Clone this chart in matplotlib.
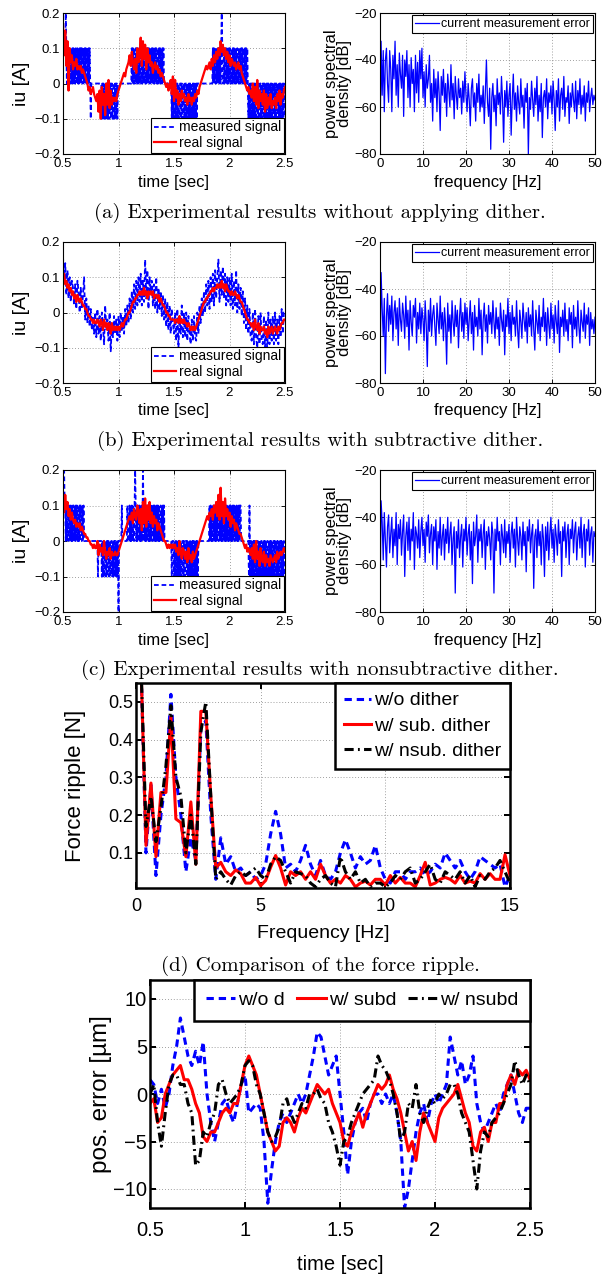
import numpy as np
import matplotlib.pyplot as plt

W, H = 614, 1280

# ---------------- data ----------------
# rows (a)-(c), left: sampled every 0.01 s from 0.5 s, values in 0.01 A
red_a = [17, 8, 15, 5, 12, -2, 10, 6, 8, 4,
         6, 5, 7, 4, 5, 4, 5, 3, 4, 3,
         2, 1, 0, -2, -1, -3, -2, -1, -3, -4,
         -5, -3, -8, -2, -10, -1, -6, -3, -9, 0,
         -6, 1, -7, -2, -6, -4, -5, -4, -5, -3,
         -2, -1, 0, 1, 2, 3, 2, 4, 5, 6,
         8, 5, 9, 6, 4, 7, 3, 10, 6, 8,
         13, 5, 12, 7, 11, 4, 10, 6, 8, 5,
         6, 3, 5, 6, 4, 5, 3, 4, 2, 3,
         2, 1, 0, -1, 0, -2, -1, 1, -3, 2,
         -5, 1, -4, -2, -6, -3, -5, -2, -4, -3,
         -5, -4, -6, -3, -5, -4, -6, -4, -5, -3,
         -4, -2, -3, -1, 0, 1, 2, 3, 4, 5,
         4, 5, 6, 4, 7, 5, 8, 6, 9, 7,
         10, 8, 12, 9, 11, 8, 10, 7, 9, 6,
         8, 5, 7, 6, 5, 6, 4, 5, 6, 4,
         5, 3, 2, 1, 0, -1, -2, -1, -3, -2,
         -4, 0, -5, -1, -6, 1, -7, -2, -5, -3,
         -6, -2, -8, -3, -7, -4, -6, -3, -7, -5,
         -6, -4, -7, -3, -5, -2, -6, -3, -4, -2,
         -1]

red_b = [10, 11, 8, 9, 7, 8, 6, 7, 5, 6,
         4, 5, 3, 5, 4, 3, 4, 3, 2, 2,
         1, 1, 0, -1, -1, -2, -2, -3, -2, -3,
         -3, -2, -3, -4, -2, -3, -5, -2, -4, -3,
         -5, -3, -4, -6, -3, -5, -4, -5, -4, -5,
         -4, -5, -4, -3, -4, -3, -2, -2, -1, 0,
         0, 1, 2, 3, 3, 4, 4, 5, 5, 6,
         5, 6, 5, 7, 5, 6, 4, 6, 5, 6,
         5, 6, 4, 5, 5, 4, 5, 3, 4, 3,
         2, 2, 1, 0, 0, -1, -1, -2, -2, -2,
         -2, -3, -2, -2, -3, -1, -3, -2, -3, -2,
         -3, -3, -4, -3, -4, -5, -4, -5, -4, -5,
         -4, -3, -2, -1, 0, 1, 2, 3, 3, 4,
         4, 5, 5, 6, 6, 7, 6, 7, 7, 8,
         7, 8, 7, 9, 7, 8, 6, 8, 7, 6,
         6, 5, 6, 5, 5, 6, 5, 4, 5, 4,
         3, 3, 2, 1, 0, -1, -2, -2, -3, -3,
         -4, -3, -5, -2, -4, -5, -3, -6, -4, -5,
         -5, -4, -6, -5, -7, -4, -6, -5, -4, -6,
         -5, -4, -5, -6, -4, -5, -4, -3, -3, -2,
         -2]

meas_b = [16, 8, 14, 5, 12, 4, 10, 3, 9, 7,
          2, 8, 1, 9, 6, 0, 7, 1, 5, 10,
          -2, 4, -3, 2, -4, 1, -5, -1, -6, 0,
          -7, 1, -6, -1, -8, 0, -4, -9, 2, -5,
          -2, -8, 0, -11, -3, -7, -1, -6, -2, -8,
          -1, -7, 0, -5, -1, -6, 1, -4, 2, -3,
          4, -2, 6, 0, 8, 1, 9, 2, 10, 3,
          11, 2, 9, 3, 15, 4, 12, 1, 10, 6,
          9, 2, 8, 1, 10, 0, 7, 1, 6, -1,
          5, -2, 4, -4, 3, -5, 2, -6, 1, -3,
          -6, 0, -8, 1, -10, -1, -6, 2, -7, 0,
          -7, 0, -8, -1, -6, -9, -2, -8, -1, -7,
          -8, 0, -6, 2, -3, 4, -1, 6, 0, 8,
          2, 9, 1, 10, 3, 11, 2, 12, 4, 10,
          15, 3, 12, 5, 13, 4, 11, 2, 10, 3,
          10, 2, 11, 1, 9, 2, 12, 0, 8, 1,
          7, -1, 6, -3, 4, -5, 2, -6, 1, -7,
          -8, 0, -9, 1, -7, -10, -1, -9, 0, -8,
          -9, -1, -10, -2, -11, 0, -9, -2, -8, -1,
          -9, 0, -8, -2, -9, -1, -7, 1, -6, 0,
          0]

red_c = [12, 8, 13, 9, 11, 7, 9, 6, 8, 6,
         5, 6, 4, 5, 4, 5, 3, 4, 3, 2,
         2, 1, 1, 0, 0, -1, -1, -2, -1, -2,
         -2, 0, -4, -1, -3, -2, -4, 0, -3, -5,
         -3, -4, -2, -5, -3, -4, -4, -3, -4, -4,
         -3, -2, -1, 0, 1, 2, 3, 4, 5, 6,
         7, 6, 8, 5, 9, 7, 6, 10, 8, 5,
         9, 3, 11, 5, 12, 4, 10, 6, 11, 5,
         8, 4, 7, 5, 6, 3, 5, 4, 3, 2,
         1, 0, 0, -1, -2, -1, -2, -1, -2, -1,
         -2, -1, -3, -2, -4, 0, -3, -5, -2, -3,
         -5, -3, -6, -2, -5, -4, -6, -3, -5, -4,
         -3, -2, -1, 0, 1, 2, 3, 4, 5, 6,
         7, 6, 8, 7, 9, 6, 10, 8, 11, 7,
         13, 6, 15, 7, 11, 5, 12, 7, 9, 6,
         8, 4, 7, 5, 6, 3, 5, 4, 3, 2,
         2, 1, 0, -1, -2, -1, -3, -2, -3, -4,
         -2, -5, -1, -6, 0, -5, -3, -7, -2, -5,
         -6, -3, -7, -4, -6, -5, -7, -4, -5, -6,
         -5, -4, -6, -3, -5, -4, -3, -4, -3, -2,
         -3]

# quantised measurements every 0.005 s from 0.5 s: N=-0.2 n=-0.1 z=0 p=0.1 P=0.2
meas_a_codes = ["pppppPpzpz",
                "pzpzzpzpzp", "zpzpzzpzpz", "pzpzpzzpzp", "zpzzpzpzpz",
                "nzzzzzzzzzzzzzzzzzzz",
                "nznznzznzn", "znznnzznzn", "nzznznzznz",
                "zzzzzzzzzzzzzzzzzzzzzzzz",
                "pzpzpzzpzp", "zpzpzpzzpz", "pzpzzpzpzp", "zpzzpzpzpz", "pzpzpzzpzp", "zpzpzpzpzz",
                "zzzzzzzzzzzz",
                "nznznzznzn", "znznnzznzn", "nzznznzznz", "nznznzznzn", "znznznzz",
                "zzzzzzzzzzzzzzzzzzzzzzzzzz",
                "pzpzpzzpzp", "zpzpzpPpzz", "pzpzzpzpzp", "zpzzpzpzpz", "pzpzpzzpzp", "zpzpzzpzpz", "pzpz",
                "nznznzznzn", "znznnzznzn", "nzznznzznz", "nznznzznzn", "znznzznznz", "nzznznznzn", "znznzn"]
meas_c_codes = ["PPPp",
                "pzpzppzpzzpzpzppzpzp", "zpzzpzpzppzpzpzz",
                "zzzzzzzzzzzzzzzzzzzz",
                "zzznzzzzzz",
                "nznznnzznz", "nzznznnzzn", "znznzznznz",
                "N", "zzzzzpzzzzzzzzzpzzz",
                "pzpzpzzpzp", "Ppzpzpzzpz", "pzpzPpzpzp", "zpzpzzpzpz", "pzzpzpzpzp", "zpzpzzpzpz", "pzpz",
                "zzzzzzzzzzzznzzz",
                "nznzznznzn", "znznnzznzn", "nzznznzznz", "nznznzznzn", "znzn",
                "zzzzzzzzzzzzzzzzzzzz",
                "pzpzpzzpzp", "zpzpzpzzpz", "pzpzzpzpzp", "zpzzpzpzpz", "pzpzpzzpzp", "zpzpzp",
                "pzzzzzzzzzzzzz",
                "znpnzznznz", "nzznznzznz", "nznzznznzn", "znznzznznz", "nznznzznzn", "zznznznzzn", "znznzn"]

# power spectral density in dB, every 0.25 Hz from 0 Hz
psd_a = [-80, -32, -55, -36, -62, -40, -35, -50, -58, -36, -44, -62, -38, -48, -32, -55, -42, -60, -37, -46,
         -52, -38, -64, -40, -47, -36, -56, -42, -60, -39, -50, -44, -62, -38, -54, -41, -58, -36, -48, -35,
         -56, -45, -60, -42, -52, -48, -38, -58, -50, -66, -44, -56, -48, -62, -45, -54, -70, -47, -55, -44,
         -58, -50, -64, -46, -53, -60, -42, -57, -50, -65, -47, -55, -61, -48, -56, -52, -63, -49, -58, -45,
         -55, -62, -50, -57, -68, -52, -48, -60, -54, -66, -50, -58, -46, -62, -55, -60, -51, -67, -53, -40,
         -58, -64, -52, -78, -56, -50, -62, -55, -68, -48, -59, -54, -63, -47, -57, -75, -53, -60, -49, -64,
         -55, -50, -72, -57, -46, -61, -54, -66, -51, -58, -63, -48, -60, -55, -69, -52, -58, -50, -80, -56,
         -61, -49, -57, -64, -52, -59, -47, -66, -55, -62, -50, -73, -56, -53, -60, -48, -65, -54, -58, -51,
         -63, -49, -57, -70, -53, -60, -48, -66, -55, -52, -61, -47, -64, -56, -58, -51, -67, -54, -60, -50,
         -57, -62, -49, -65, -53, -59, -48, -63, -55, -60, -51, -66, -54, -58, -49, -62, -56, -52, -59, -55, -57]
psd_b = [-80, -33, -48, -60, -44, -76, -52, -42, -58, -47, -55, -43, -62, -50, -45, -57, -48, -64, -44, -53,
         -58, -46, -51, -61, -43, -56, -49, -66, -45, -54, -60, -47, -52, -44, -63, -50, -57, -46, -59, -48,
         -53, -62, -45, -55, -73, -49, -58, -44, -60, -51, -47, -56, -64, -46, -53, -59, -43, -57, -50, -62,
         -48, -55, -72, -46, -58, -51, -63, -45, -54, -60, -47, -56, -49, -65, -52, -44, -58, -50, -61, -46,
         -55, -48, -62, -53, -45, -59, -50, -66, -47, -56, -52, -60, -44, -57, -49, -68, -53, -46, -58, -51,
         -63, -47, -55, -50, -59, -45, -54, -61, -48, -57, -52, -64, -46, -53, -58, -49, -68, -51, -56, -44,
         -59, -50, -62, -47, -55, -52, -60, -45, -57, -65, -49, -54, -61, -46, -53, -58, -50, -63, -48, -56,
         -51, -60, -45, -57, -66, -49, -54, -59, -47, -62, -52, -56, -44, -58, -50, -64, -48, -55, -61, -46,
         -57, -51, -63, -47, -54, -59, -45, -67, -52, -56, -49, -60, -46, -58, -53, -62, -48, -55, -50, -65,
         -47, -57, -52, -60, -45, -56, -63, -49, -54, -58, -46, -61, -51, -55, -48, -64, -50, -57, -53, -59, -52]
psd_c = [-80, -33, -42, -58, -38, -50, -61, -44, -39, -55, -47, -40, -57, -45, -52, -38, -60, -43, -49, -41,
         -56, -46, -39, -65, -48, -42, -54, -40, -58, -45, -50, -38, -62, -44, -47, -53, -41, -57, -46, -40,
         -52, -45, -59, -42, -48, -39, -55, -47, -43, -60, -44, -50, -41, -62, -46, -53, -40, -56, -48, -43,
         -58, -45, -51, -40, -55, -47, -42, -60, -49, -44, -72, -46, -53, -41, -57, -48, -43, -61, -45, -50,
         -40, -56, -47, -43, -58, -46, -68, -42, -52, -48, -39, -59, -45, -50, -43, -57, -47, -41, -62, -46,
         -52, -44, -49, -58, -42, -47, -72, -45, -54, -40, -50, -46, -60, -43, -48, -55, -41, -57, -46, -51,
         -43, -59, -47, -42, -53, -45, -61, -40, -49, -56, -44, -48, -58, -42, -52, -46, -63, -44, -50, -41,
         -55, -47, -43, -70, -48, -45, -57, -41, -52, -46, -60, -43, -49, -65, -44, -54, -42, -58, -47, -40,
         -53, -45, -59, -43, -48, -56, -41, -51, -46, -65, -44, -50, -42, -57, -47, -43, -60, -45, -49, -41,
         -55, -46, -42, -58, -48, -44, -53, -40, -57, -47, -43, -61, -45, -50, -41, -56, -47, -44, -59, -46, -48]

# (d) force ripple [N], every 0.2 Hz from 0.2 Hz
ripple_wo = [0.60, 0.10, 0.28, 0.04, 0.20, 0.30, 0.52, 0.30, 0.20, 0.05,
             0.14, 0.08, 0.43, 0.45, 0.20, 0.03, 0.14, 0.07, 0.09, 0.05,
             0.06, 0.04, 0.05, 0.03, 0.04, 0.07, 0.15, 0.21, 0.15, 0.06,
             0.07, 0.05, 0.08, 0.12, 0.07, 0.04, 0.08, 0.04, 0.03, 0.05,
             0.10, 0.135, 0.10, 0.06, 0.09, 0.07, 0.08, 0.12, 0.06, 0.03,
             0.02, 0.05, 0.05, 0.03, 0.05, 0.05, 0.06, 0.04, 0.05, 0.07,
             0.06, 0.10, 0.08, 0.06, 0.08, 0.05, 0.03, 0.05, 0.09, 0.08,
             0.07, 0.06, 0.07, 0.01, 0.04]
ripple_sub = [0.60, 0.12, 0.285, 0.09, 0.26, 0.26, 0.46, 0.19, 0.18, 0.09,
              0.235, 0.07, 0.475, 0.475, 0.25, 0.06, 0.075, 0.05, 0.04, 0.055,
              0.045, 0.02, 0.02, 0.035, 0.013, 0.027, 0.062, 0.093, 0.06, 0.015,
              0.05, 0.04, 0.05, 0.03, 0.05, 0.03, 0.07, 0.04, 0.02, 0.03,
              0.02, 0.04, 0.03, 0.01, 0.02, 0.025, 0.015, 0.03, 0.03, 0.015,
              0.04, 0.02, 0.035, 0.02, 0.02, 0.01, 0.04, 0.075, 0.015, 0.02,
              0.03, 0.035, 0.03, 0.02, 0.04, 0.02, 0.025, 0.02, 0.045, 0.03,
              0.045, 0.03, 0.03, 0.095, 0.04]
ripple_nsub = [0.60, 0.17, 0.25, 0.13, 0.22, 0.33, 0.49, 0.30, 0.25, 0.10,
               0.20, 0.07, 0.42, 0.50, 0.25, 0.03, 0.05, 0.03, 0.015, 0.04,
               0.05, 0.04, 0.05, 0.06, 0.04, 0.03, 0.07, 0.09, 0.08, 0.05,
               0.02, 0.05, 0.045, 0.04, 0.02, 0.01, 0.03, 0.04, 0.02, 0.01,
               0.09, 0.05, 0.03, 0.05, 0.02, 0.03, 0.01, 0.02, 0.02, 0.01,
               0.02, 0.04, 0.03, 0.05, 0.06, 0.02, 0.03, 0.05, 0.07, 0.03,
               0.02, 0.05, 0.04, 0.03, 0.05, 0.02, 0.04, 0.01, 0.04, 0.03,
               0.05, 0.06, 0.08, 0.05, 0.02]

# (e) position error [um], every 0.02 s from 0.5 s
pos_wo = [1.5, 1, -1, 0.5, -1.5, 0, 3, 5, 8, 6,
          4, 3, 4.5, 3, 5.5, 0, -3, -5, -3, -1,
          -0.5, -2, -3, -1, 1, 2, -2, -1.5, -1, -1.5,
          -5, -11.5, -8, -5, -3, -2, -3, -2, -1, 0,
          -1, 0, 2, 4, 6.5, 6, 4, 2, 3, 4,
          0, -4, -8.5, -5, -3, -2, -1.5, -3, -1, 0,
          0, -1, 0, -1, 0, -2, -5, -12, -10, -7,
          -4, -2, -1, -3, -1, 0, -1, 0, 1, 6,
          4, 2, 3.5, 1, 2, 4, -1, -3, -4, -3,
          -2, -1, -2, 0, 1, 2, 0, -2, -3, -1.5,
          -1.5]
pos_sub = [-1, -0.5, -3, -2.5, 0, 1, 2, 2.5, 3, 1.5,
           1.5, 0.5, -1, -2, -4.5, -5, -4, -4, -3, -2,
           -1.5, -2, -1, -1, 1, 3, 4, 3, 2, 0,
           -2, -4, -5, -6, -5.5, -3, -2.5, -3, -4, -2.5,
           -1.5, -2, -1, 0, 1, 0.5, 0, 0.5, -1, -2,
           -3, -5, -5.5, -4, -3, -2, -3.5, -2, -1, 0,
           1, 0.5, 1, 2, 0.5, -0.5, -2, -4, -6, -5,
           -7, -4, -2, -3, -4, -5, -2.5, -1.5, -1, -0.5,
           0, 1, -0.5, -2, -3, -5.5, -6, -4, -3.5, -5,
           -3, -3, -1, -1, 1, 2, 1, 2.5, 2, 2.5,
           1.5]
pos_nsub = [0, 1, -3, -5.5, -2, 1, 2, 2, 1, 1,
            -1, -2, -7.5, -7, -4, -4.5, -3, -2, 1, 1.5,
            0, -1, -0.5, 0, 1, 3, 3.5, 3, 1, 0,
            -2, -4, -5, -4.5, -3.5, -1, -0.5, -2, -3, -2,
            -1, -1.5, 0, 0, 0.5, -0.5, -1, -3, -4, -5.5,
            -7.5, -5, -4.5, -3, -2, -1, 0, 0.5, 1, 1.5,
            4, 3, 2.5, 1.5, 0, -2, -5, -4, -1, -1.5,
            1, -2, -3, -1.5, -0.5, -1, 0, -0.5, 0, 1,
            1, 0, -2, -3, -4, -7, -10, -6, -4, -4.5,
            -3, -2.5, -2, -1, 0, 1, 3.5, 2, 1, 2,
            1]

captions = ["(a) Experimental results without applying dither.",
            "(b) Experimental results with subtractive dither.",
            "(c) Experimental results with nonsubtractive dither.",
            "(d) Comparison of the force ripple."]

time_ticks = [0.5, 1, 1.5, 2, 2.5]
time_labels = ["0.5", "1", "1.5", "2", "2.5"]
iu_ticks = [-0.2, -0.1, 0, 0.1, 0.2]
iu_labels = ["\u22120.2", "\u22120.1", "0", "0.1", "0.2"]
freq_ticks = [0, 10, 20, 30, 40, 50]
freq_labels = ["0", "10", "20", "30", "40", "50"]
db_ticks = [-80, -60, -40, -20]
db_labels = ["\u221280", "\u221260", "\u221240", "\u221220"]

# ---------------- drawing ----------------
plt.rcParams['font.family'] = ['Liberation Sans', 'DejaVu Sans']
BLUE, RED = '#0000ff', '#ff0000'

fig = plt.figure(figsize=(W / 100, H / 100), dpi=100)


def box(l, t, r, b):
    ax = fig.add_axes([l / W, 1 - b / H, (r - l) / W, (b - t) / H])
    ax._px = (l, t, r, b)
    return ax


def style(ax, xt, xl, yt, yl, size, lw, tlen, xpad=2):
    ax.set_xticks(xt, xl)
    ax.set_yticks(yt, yl)
    ax.tick_params(direction='in', top=True, right=True, labelsize=size,
                   width=lw * 0.8, length=tlen, pad=2)
    ax.tick_params(axis='x', pad=xpad)
    for s in ax.spines.values():
        s.set_linewidth(lw)
    ax.grid(True, color='0.5', linestyle=(0, (1, 2.5)), linewidth=0.6)
    ax.set_axisbelow(True)


def labels(ax, xlab, ylab, xy, yx, xsize, ysize):
    l, t, r, b = ax._px
    ax.set_xlabel(xlab, fontsize=xsize)
    ax.xaxis.set_label_coords(0.5, (b - xy) / (b - t))
    ax.xaxis.label.set_va('center')
    ax.set_ylabel(ylab, fontsize=ysize, linespacing=0.9)
    ax.yaxis.set_label_coords((yx - l) / (r - l), 0.5)
    ax.yaxis.label.set_va('center')


t_coarse = 0.5 + 0.01 * np.arange(201)
t_fine = 0.5 + 0.005 * np.arange(400)
level = {'N': -0.2, 'n': -0.1, 'z': 0.0, 'p': 0.1, 'P': 0.2}
freq = 0.25 * np.arange(201)

rows = [(13, 154, ''.join(meas_a_codes), red_a, psd_a),
        (242, 383, None, red_b, psd_b),
        (470, 612, ''.join(meas_c_codes), red_c, psd_c)]
cap_y = [213, 441, 670, 966]

for i, (top, bot, codes, red, psd) in enumerate(rows):
    ax = box(63, top, 285, bot)
    if codes is not None:
        ax.plot(t_fine, [level[c] for c in codes], color=BLUE, lw=1.3,
                dashes=(2.6, 1.6), label='measured signal')
    else:
        ax.plot(t_coarse, np.array(meas_b) / 100, color=BLUE, lw=1.3,
                dashes=(2.6, 1.6), label='measured signal')
    ax.plot(t_coarse, np.array(red) / 100, color=RED, lw=1.6, label='real signal')
    ax.set_xlim(0.5, 2.5)
    ax.set_ylim(-0.2, 0.2)
    style(ax, time_ticks, time_labels, iu_ticks, iu_labels, 9.5, 0.8, 3, xpad=3)
    labels(ax, 'time [sec]', 'iu [A]', bot + 28, 22, 12, 14)
    ax.legend(loc='lower right', bbox_to_anchor=(1, 0), borderaxespad=0.1,
              fontsize=10, handlelength=1.6, handletextpad=0.15,
              borderpad=0.2, labelspacing=0.1, fancybox=False,
              edgecolor='black', framealpha=1).get_frame().set_linewidth(0.8)

    ax2 = box(380, top, 595, bot)
    ax2.plot(freq, psd, color=BLUE, lw=0.9, label='current measurement error')
    ax2.set_xlim(0, 50)
    ax2.set_ylim(-80, -20)
    style(ax2, freq_ticks, freq_labels, db_ticks, db_labels, 9.5, 0.8, 3, xpad=3)
    labels(ax2, 'frequency [Hz]', 'power spectral\ndensity [dB]', bot + 28, 338, 12, 12)
    ax2.legend(loc='upper right', bbox_to_anchor=(1, 1), borderaxespad=0.15,
               fontsize=9, handlelength=1.9, handletextpad=0.2,
               borderpad=0.25, fancybox=False, edgecolor='black',
               framealpha=1).get_frame().set_linewidth(0.8)

# (d) force ripple
rf = 0.2 * np.arange(1, 76)
ax = box(136, 683, 510, 888)
ax.plot(rf, ripple_wo, color=BLUE, lw=2.2, dashes=(2.4, 1.6), label='w/o dither')
ax.plot(rf, ripple_sub, color=RED, lw=2.2, label='w/ sub. dither')
ax.plot(rf, ripple_nsub, color='black', lw=2.2, dashes=(3, 1.4, 0.6, 1.4), label='w/ nsub. dither')
ax.set_xlim(0, 15)
ax.set_ylim(0.007, 0.55)
style(ax, [0, 5, 10, 15], ["0", "5", "10", "15"], [0.1, 0.2, 0.3, 0.4, 0.5],
      ["0.1", "0.2", "0.3", "0.4", "0.5"], 13, 1.8, 4, xpad=7)
labels(ax, 'Frequency [Hz]', 'Force ripple [N]', 933, 76, 14, 16)
ax.legend(loc='upper right', bbox_to_anchor=(1, 1), borderaxespad=0,
          fontsize=14, handlelength=1.4, handletextpad=0.15, borderpad=0.45,
          labelspacing=0.4, fancybox=False, edgecolor='black',
          framealpha=1).get_frame().set_linewidth(1.8)

# (e) position error
tp = 0.5 + 0.02 * np.arange(101)
ax = box(150, 980, 530, 1208)
ax.plot(tp, pos_wo, color=BLUE, lw=2.2, dashes=(2.4, 1.6), label='w/o d')
ax.plot(tp, pos_sub, color=RED, lw=2.2, label='w/ subd')
ax.plot(tp, pos_nsub, color='black', lw=2.2, dashes=(3, 1.4, 0.6, 1.4), label='w/ nsubd')
ax.set_xlim(0.5, 2.5)
ax.set_ylim(-12, 12)
style(ax, time_ticks, time_labels, [-10, -5, 0, 5, 10],
      ["\u221210", "\u22125", "0", "5", "10"], 14.5, 1.8, 4, xpad=9)
labels(ax, 'time [sec]', 'pos. error [\u00b5m]', 1265, 101, 14.5, 17.5)
ax.legend(loc='upper right', bbox_to_anchor=(1, 1), borderaxespad=0, ncol=3,
          fontsize=14, handlelength=1.5, handletextpad=0.15, borderpad=0.6,
          columnspacing=0.6, fancybox=False, edgecolor='black',
          framealpha=1).get_frame().set_linewidth(1.8)

for txt, y in zip(captions, cap_y):
    fig.text(320 / W, 1 - y / H, txt, ha='center', va='center',
             family='cmr10', fontsize=15)

fig.savefig('out.png', dpi=100)
